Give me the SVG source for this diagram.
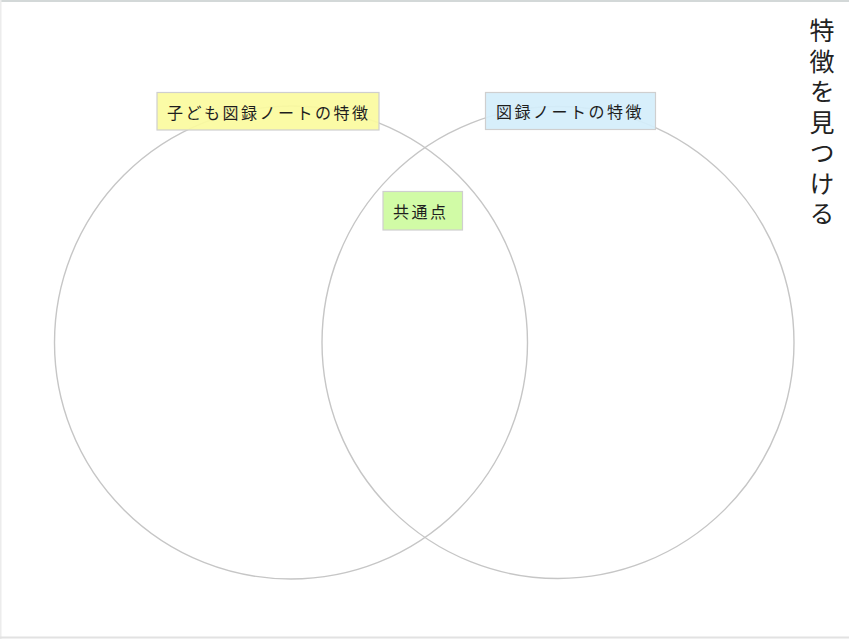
<svg xmlns="http://www.w3.org/2000/svg" width="849" height="639" viewBox="0 0 849 639">
<style>
.c{fill:none;stroke:#c6c6c6;stroke-width:1.4}
.lb{stroke:#cfcfcf;stroke-width:1.2}
.t{font-family:"Noto Sans CJK JP","Noto Sans",sans-serif;font-size:16px;fill:#1e1e1e;letter-spacing:2.5px;dominant-baseline:central}
</style>
<rect x="0" y="0" width="849" height="639" fill="#ffffff"/>
<line x1="0" y1="1" x2="849" y2="1" stroke="#d3d8d8" stroke-width="2"/>
<line x1="0.75" y1="0" x2="0.75" y2="639" stroke="#ececec" stroke-width="1.5"/>
<line x1="0" y1="637.5" x2="849" y2="637.5" stroke="#e2e2e2" stroke-width="2"/>
<g id="connectors">
<circle class="c" cx="291" cy="342.5" r="236.5"/>
<circle class="c" cx="558" cy="342.5" r="236"/>
</g>
<g id="node-left">
<rect class="lb" x="157" y="92.5" width="222" height="37.5" fill="#fbfb9e" fill-opacity="0.92"/>
<text class="t" x="167" y="111.5">子ども図録ノートの特徴</text>
</g>
<g id="node-right">
<rect class="lb" x="485.5" y="92.5" width="170" height="37" fill="#d4eefb" fill-opacity="0.92"/>
<text class="t" x="496" y="111">図録ノートの特徴</text>
</g>
<g id="node-common">
<rect class="lb" x="383" y="191.5" width="79.5" height="38.5" fill="#cdfb9e" fill-opacity="0.92"/>
<text class="t" x="393" y="211">共通点</text>
</g>
<g id="title">
<text x="822" y="18" font-family="'Noto Sans CJK JP','Noto Sans',sans-serif" font-size="25" fill="#222" writing-mode="vertical-rl" letter-spacing="5.5">特徴を見つける</text>
</g>
</svg>
